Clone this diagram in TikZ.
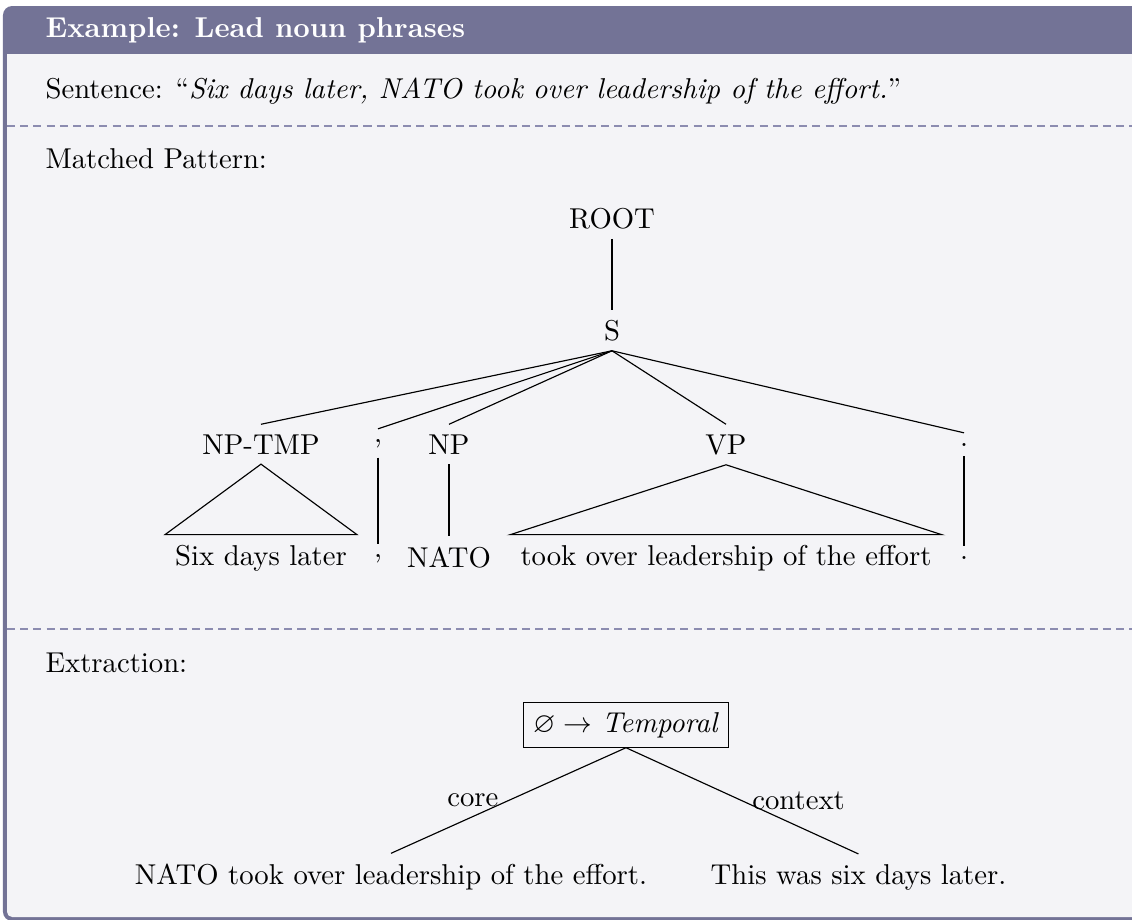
\documentclass[tikz,border=0pt]{standalone}
\usepackage{amssymb}
\definecolor{frameC}{RGB}{115,115,150}
\definecolor{bodyC}{RGB}{244,244,247}
\definecolor{dashC}{RGB}{140,140,176}
\begin{document}
\begin{tikzpicture}[x=0.3484pt,y=-0.3484pt,
  lbl/.style={anchor=base west, inner sep=0pt},
  tn/.style={anchor=base},
  edge/.style={draw=black, line width=0.4pt},
  sepline/.style={draw=dashC, dash pattern=on 2.8pt off 1.8pt, line width=0.4pt}]
\useasboundingbox (0,0) rectangle (1132,919);
\clip (0,0) rectangle (1132,919);
% frame
\fill[frameC, rounded corners=3.2pt] (3,6) rectangle (1150,921);
\fill[bodyC, rounded corners=1.8pt] (7,54) rectangle (1146,917);
\fill[bodyC] (7,54) rectangle (1146,64);
% header and section texts
\node[lbl, text=white] (title) at (45,37) {\textbf{Example: Lead noun phrases}};
\node[lbl] (sent) at (45,98) {Sentence: ``\textit{Six days later, NATO took over leadership of the effort.}''};
\draw[sepline] (7,126) -- (1146,126);
\node[lbl] (matched) at (45,168) {Matched Pattern:};
\draw[sepline] (7,629) -- (1146,629);
\node[lbl] (extr) at (45,672) {Extraction:};
% tree
\node[tn] (root) at (612,228) {ROOT};
\node[tn] (s) at (612,340) {S};
\node[tn] (nptmp) at (261,454) {NP-TMP};
\node[tn] (comma) at (378,442) {,};
\node[tn] (np) at (449,454) {NP};
\node[tn] (vp) at (726,454) {VP};
\node[tn] (period) at (964,446) {.};
\node[tn] (l1) at (261,565) {Six days later};
\node[tn] (l2) at (378,557) {,};
\node[tn] (l3) at (449,567) {NATO};
\node[tn] (l4) at (726,565) {took over leadership of the effort};
\node[tn] (l5) at (964,559) {.};
\draw[edge] (root.south) -- (s.north);
\draw[edge] (s.south) -- (nptmp.north);
\draw[edge] (s.south) -- (comma.north);
\draw[edge] (s.south) -- (np.north);
\draw[edge] (s.south) -- (vp.north);
\draw[edge] (s.south) -- (period.north);
\draw[edge] (nptmp.south) -- (l1.north west) -- (l1.north east) -- cycle;
\draw[edge] (comma.south) -- (l2.north);
\draw[edge] (np.south) -- (l3.north);
\draw[edge] (vp.south) -- (l4.north west) -- (l4.north east) -- cycle;
\draw[edge] (period.south) -- (l5.north);
% extraction
\node[tn, draw=black, line width=0.4pt] (ext) at (626,732) {$\varnothing \rightarrow$ \textit{Temporal}};
\node[tn] (core) at (391,884) {NATO took over leadership of the effort.};
\node[tn] (ctx) at (858.5,884) {This was six days later.};
\draw[edge] (ext.south) -- node[midway, left] {core} (core.north);
\draw[edge] (ext.south) -- node[midway, right] {context} (ctx.north);
\end{tikzpicture}
\end{document}
